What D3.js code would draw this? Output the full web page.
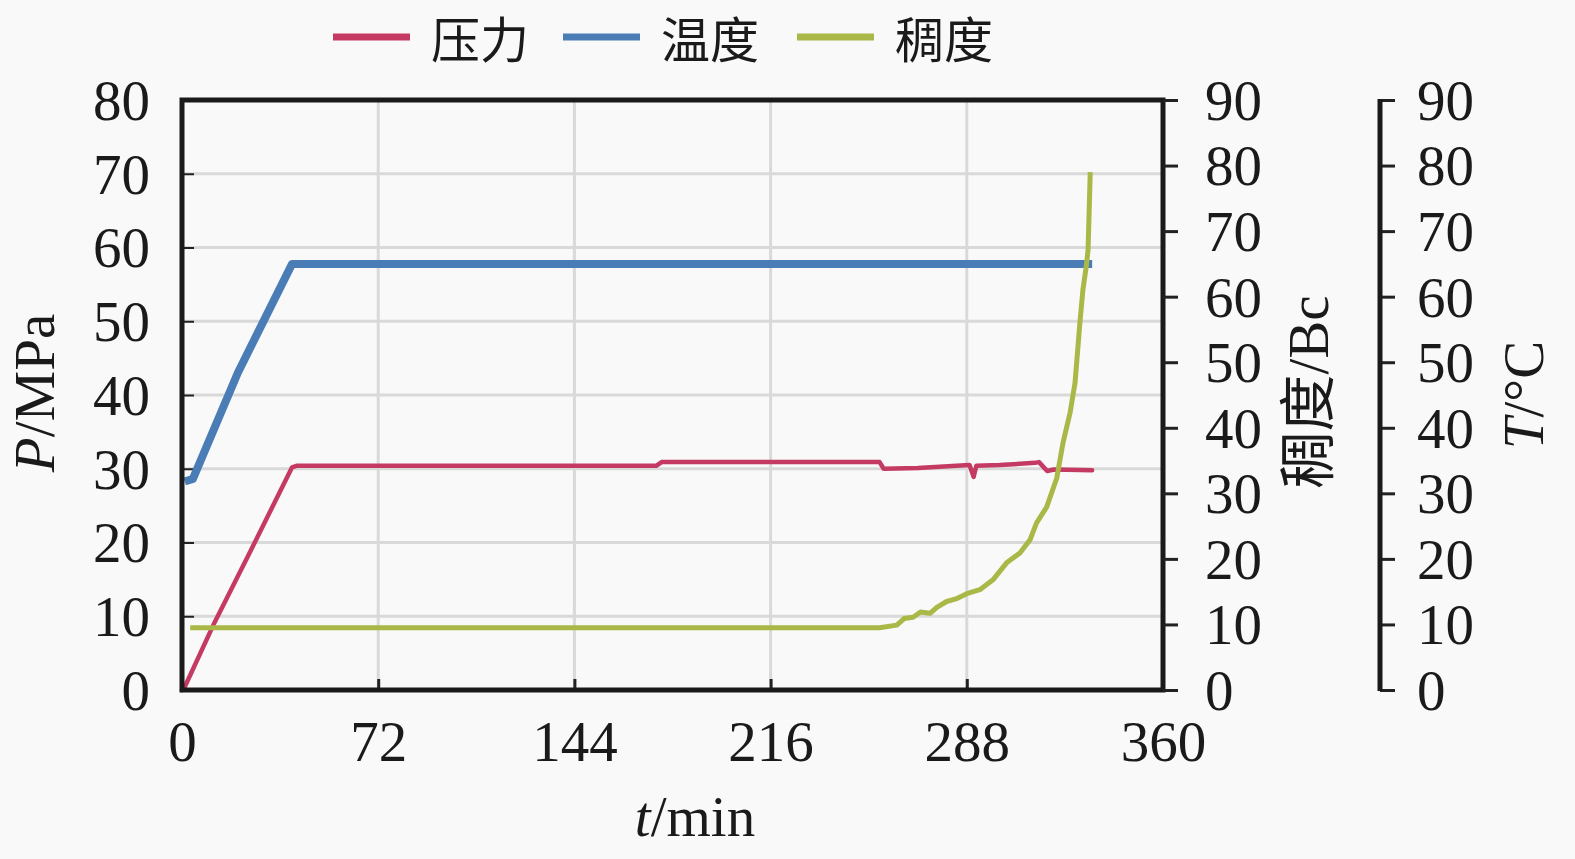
<!DOCTYPE html>
<html><head><meta charset="utf-8">
<script src="https://cdn.jsdelivr.net/npm/d3@7"></script>
<style>
html,body{margin:0;padding:0;background:#f9f9f9;}
svg{display:block;}
</style></head>
<body>
<svg id="c" width="1575" height="859"></svg>
<script>
// ---- data ----
const xTicks = [0, 72, 144, 216, 288, 360];
const pTicks = [0, 10, 20, 30, 40, 50, 60, 70, 80];
const bcTicks = [0, 10, 20, 30, 40, 50, 60, 70, 80, 90];
const tTicks = [0, 10, 20, 30, 40, 50, 60, 70, 80, 90];

const legendNames = ["压力", "温度", "稠度"];
const colors = ["#c43a63", "#4a7db5", "#a9b846"];

const pressureTime = [0, 1, 12, 24, 40.4, 42, 100, 174, 176, 256, 257.5, 270, 289, 290.5, 291.5, 300, 313, 314.5, 317.5, 320, 334];
const pressure     = [0, 0.4, 9.2, 18, 30.2, 30.4, 30.4, 30.4, 30.9, 30.9, 30.0, 30.1, 30.5, 28.9, 30.4, 30.5, 30.8, 30.9, 29.7, 29.9, 29.8];

const tempTime = [1, 4, 20.5, 40.4, 334];
const temperature = [31.8, 32.2, 48.4, 65, 65];

const consTime = [3, 256, 262.3, 265, 268.3, 271, 274.5, 277, 280.6, 284, 288, 292.8, 297.6, 302.6, 307.5, 311.2, 313.6, 317.3, 321, 323.3, 325.9, 327.7, 329.5, 330.6, 331.8, 332.5, 333.3];
const consistency = [9.5, 9.5, 9.9, 10.9, 11.1, 11.9, 11.7, 12.6, 13.5, 13.9, 14.7, 15.3, 16.8, 19.4, 20.9, 22.9, 25.5, 27.9, 32.3, 37.7, 42.3, 46.8, 56, 61, 64.5, 67.1, 79];

// ---- layout ----
const L = 182, R = 1163, T = 100, B = 690;
const axis2X = 1380;
const svg = d3.select("#c");
const serif = "'Liberation Serif','Times New Roman',serif";
const cjk = "'Liberation Serif','Noto Sans CJK SC',serif";
const fs = 57;

svg.append("rect").attr("width",1575).attr("height",859).attr("fill","#f9f9f9");

const x = d3.scaleLinear().domain([0,360]).range([L,R]);
const yP = d3.scaleLinear().domain([0,80]).range([B,T]);
const yB = d3.scaleLinear().domain([0,90]).range([B,T]);
const yT = d3.scaleLinear().domain([0,90]).range([B,T]);

// grid
const grid = svg.append("g");
grid.selectAll(".hg").data(pTicks.filter(d=>d>0&&d<80)).join("line")
  .attr("x1",L).attr("x2",R).attr("y1",d=>yP(d)).attr("y2",d=>yP(d))
  .attr("stroke","#d9d9d9").attr("stroke-width",3);
grid.selectAll(".vg").data(xTicks.filter(d=>d>0&&d<360)).join("line")
  .attr("y1",T).attr("y2",B).attr("x1",d=>x(d)).attr("x2",d=>x(d))
  .attr("stroke","#d9d9d9").attr("stroke-width",3);

function styleAxis(g, tickW){
  g.select(".domain").remove();
  g.selectAll(".tick line").attr("stroke","#222").attr("stroke-width",tickW);
  g.selectAll(".tick text").attr("font-family",serif).attr("font-size",fs).attr("fill","#1a1a1a");
}

// bottom axis
const gx = svg.append("g").attr("transform",`translate(0,${B})`)
  .call(d3.axisBottom(x).tickValues(xTicks).tickSizeInner(-11).tickSizeOuter(0).tickPadding(31).tickFormat(d3.format("d")));
styleAxis(gx,3);

// left axis
const gl = svg.append("g").attr("transform",`translate(${L},0)`)
  .call(d3.axisLeft(yP).tickValues(pTicks).tickSizeInner(-12).tickSizeOuter(0).tickPadding(32).tickFormat(d3.format("d")));
styleAxis(gl,2);
gl.selectAll(".tick text").attr("dy","0.34em");

// lines
const dataP = pressureTime.map((t,i)=>[t,pressure[i]]);
const dataT = tempTime.map((t,i)=>[t,temperature[i]]);
const dataC = consTime.map((t,i)=>[t,consistency[i]]);

svg.append("path").datum(dataP)
  .attr("d", d3.line().x(d=>x(d[0])).y(d=>yP(d[1])))
  .attr("fill","none").attr("stroke",colors[0]).attr("stroke-width",4.5).attr("stroke-linejoin","round").attr("stroke-linecap","round");
svg.append("path").datum(dataT)
  .attr("d", d3.line().x(d=>x(d[0])).y(d=>yT(d[1])))
  .attr("fill","none").attr("stroke",colors[1]).attr("stroke-width",8).attr("stroke-linejoin","round");
svg.append("path").datum(dataC)
  .attr("d", d3.line().x(d=>x(d[0])).y(d=>yB(d[1])))
  .attr("fill","none").attr("stroke",colors[2]).attr("stroke-width",5).attr("stroke-linejoin","round");

// frame
svg.append("rect").attr("x",L).attr("y",T).attr("width",R-L).attr("height",B-T)
  .attr("fill","none").attr("stroke","#1a1a1a").attr("stroke-width",5);

// right axis 1 (consistency)
const gr1 = svg.append("g").attr("transform",`translate(${R},0)`)
  .call(d3.axisRight(yB).tickValues(bcTicks).tickSizeInner(15).tickSizeOuter(0).tickPadding(27).tickFormat(d3.format("d")));
styleAxis(gr1,3);
gr1.selectAll(".tick text").attr("dy","0.34em");

// right axis 2 (temperature)
const gr2 = svg.append("g").attr("transform",`translate(${axis2X},0)`)
  .call(d3.axisRight(yT).tickValues(tTicks).tickSizeInner(15).tickSizeOuter(0).tickPadding(22).tickFormat(d3.format("d")));
styleAxis(gr2,3);
gr2.selectAll(".tick text").attr("dy","0.34em");
gr2.append("line").attr("x1",0).attr("x2",0).attr("y1",T-1).attr("y2",B+1)
  .attr("stroke","#1a1a1a").attr("stroke-width",5);

// axis titles
const tP = svg.append("text").attr("transform","translate(54,393) rotate(-90)")
  .attr("text-anchor","middle").attr("font-family",serif).attr("font-size",fs).attr("fill","#1a1a1a");
tP.append("tspan").attr("font-style","italic").text("P");
tP.append("tspan").text("/MPa");

const tX = svg.append("text").attr("x",695).attr("y",836)
  .attr("text-anchor","middle").attr("font-family",serif).attr("font-size",fs).attr("fill","#1a1a1a");
tX.append("tspan").attr("font-style","italic").text("t");
tX.append("tspan").text("/min");

svg.append("text").attr("transform","translate(1328,392) rotate(-90)")
  .attr("text-anchor","middle").attr("font-family",cjk).attr("font-size",fs).attr("fill","#1a1a1a")
  .text("稠度/Bc");

const tT = svg.append("text").attr("transform","translate(1543,395) rotate(-90)")
  .attr("text-anchor","middle").attr("font-family",serif).attr("font-size",fs).attr("fill","#1a1a1a");
tT.append("tspan").attr("font-style","italic").text("T");
tT.append("tspan").text("/°C");

// legend
const legX = [333, 563, 797];
const leg = svg.append("g");
legendNames.forEach((n,i)=>{
  leg.append("line").attr("x1",legX[i]).attr("x2",legX[i]+77).attr("y1",37).attr("y2",37)
    .attr("stroke",colors[i]).attr("stroke-width",7);
  leg.append("text").attr("x",legX[i]+98).attr("y",58)
    .attr("font-family","'Noto Sans CJK SC',sans-serif").attr("font-size",49).attr("fill","#1a1a1a")
    .text(n);
});
</script>
</body></html>
